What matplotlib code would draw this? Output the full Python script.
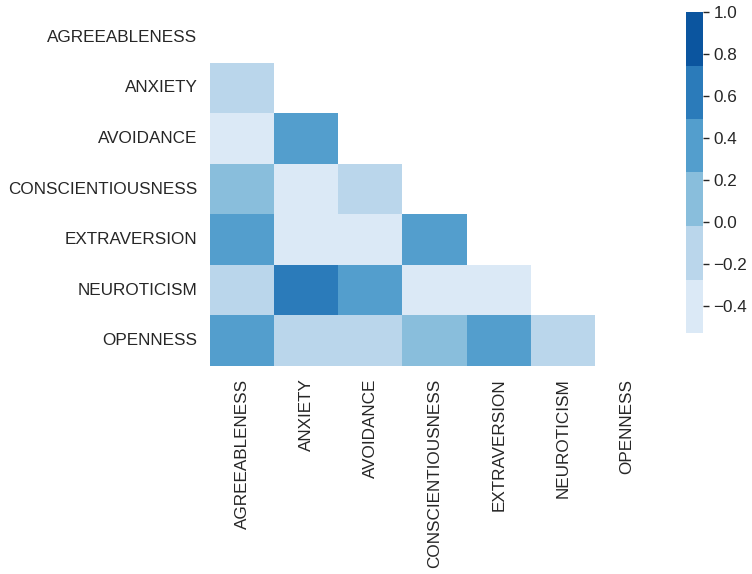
import numpy as np
import pandas as pd
import matplotlib
matplotlib.use("Agg")
import matplotlib.pyplot as plt
import seaborn as sns
from matplotlib.colors import ListedColormap

# Trait names in the order they go on both axes
traits = ["AGREEABLENESS", "ANXIETY", "AVOIDANCE", "CONSCIENTIOUSNESS",
          "EXTRAVERSION", "NEUROTICISM", "OPENNESS"]

# Correlation matrix (symmetric, only the lower half gets drawn)
agree = [1.00, -0.15, -0.35, 0.15, 0.33, -0.20, 0.30]
anxiety = [-0.15, 1.00, 0.35, -0.40, -0.30, 0.60, -0.10]
avoid = [-0.35, 0.35, 1.00, -0.20, -0.38, 0.40, -0.12]
consc = [0.15, -0.40, -0.20, 1.00, 0.30, -0.45, 0.10]
extra = [0.33, -0.30, -0.38, 0.30, 1.00, -0.527, 0.35]
neuro = [-0.20, 0.60, 0.40, -0.45, -0.527, 1.00, -0.20]
openness = [0.30, -0.10, -0.12, 0.10, 0.35, -0.20, 1.00]

corr = pd.DataFrame([agree, anxiety, avoid, consc, extra, neuro, openness],
                    index=traits, columns=traits)

sns.set_theme(style="white")
plt.rcParams["font.family"] = ["Liberation Sans", "DejaVu Sans"]

fig = plt.figure(figsize=(7.52, 5.74), dpi=100)
W, H = 752, 574
ax = fig.add_axes([210 / W, 1 - 366 / H, 449 / W, 354 / H])
cax = fig.add_axes([686 / W, 1 - 333 / H, 17 / W, 321 / H])

# hide the diagonal and everything above it
mask = np.triu(np.ones_like(corr, dtype=bool))
cmap = ListedColormap(sns.color_palette("Blues", 6))

sns.heatmap(corr, mask=mask, cmap=cmap, vmax=1.0, ax=ax, cbar_ax=cax)

ax.tick_params(length=0, pad=9, labelsize=12.3, colors=".15")
ax.set_xticklabels(traits, rotation=90)
ax.set_yticklabels(traits, rotation=0)

cax.tick_params(length=4.5, width=1, pad=3, labelsize=12.3, colors=".15")
cax.set_yticks([-0.4, -0.2, 0.0, 0.2, 0.4, 0.6, 0.8, 1.0])

fig.savefig("out.png", dpi=100)
